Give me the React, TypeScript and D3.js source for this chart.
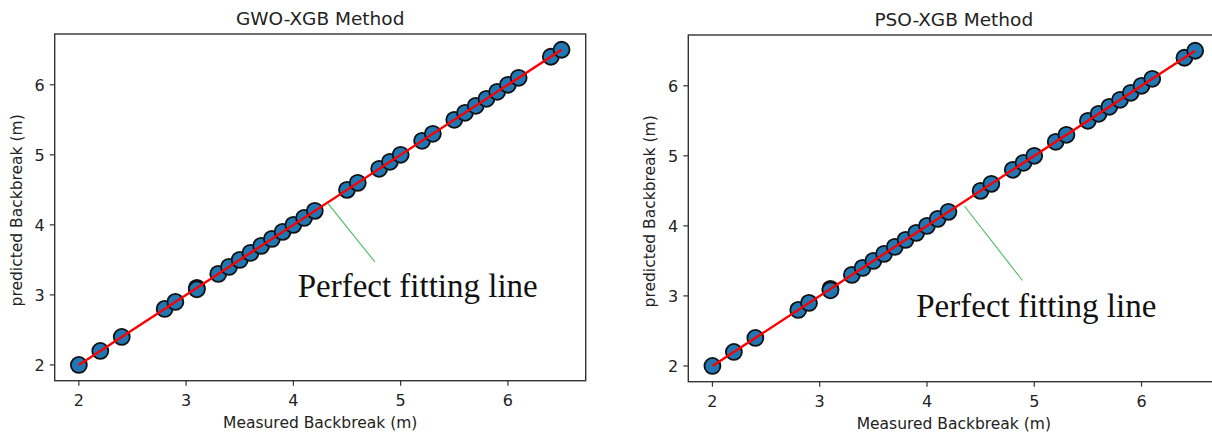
import React from "react";
import * as d3 from "d3";

const measured = [2.0, 2.2, 2.4, 2.8, 2.9, 3.1, 3.1, 3.3, 3.4, 3.5, 3.6, 3.7, 3.8, 3.9, 4.0, 4.1, 4.2, 4.5, 4.6, 4.8, 4.9, 5.0, 5.2, 5.3, 5.5, 5.6, 5.7, 5.8, 5.9, 6.0, 6.1, 6.4, 6.5];
const gwoPredicted = [2.0, 2.2, 2.4, 2.8, 2.9, 3.1, 3.08, 3.3, 3.4, 3.5, 3.6, 3.7, 3.8, 3.9, 4.0, 4.1, 4.2, 4.5, 4.6, 4.8, 4.9, 5.0, 5.2, 5.3, 5.5, 5.6, 5.7, 5.8, 5.9, 6.0, 6.1, 6.4, 6.5];
const psoPredicted = [2.0, 2.2, 2.4, 2.8, 2.9, 3.1, 3.08, 3.3, 3.4, 3.5, 3.6, 3.7, 3.8, 3.9, 4.0, 4.1, 4.2, 4.5, 4.6, 4.8, 4.9, 5.0, 5.2, 5.3, 5.5, 5.6, 5.7, 5.8, 5.9, 6.0, 6.1, 6.4, 6.5];
const tickValues = [2, 3, 4, 5, 6];
const titles = ["GWO-XGB Method", "PSO-XGB Method"];
const xLabel = "Measured Backbreak (m)";
const yLabel = "predicted Backbreak (m)";
const annotationText = "Perfect fitting line";
// annotation anchors in data coordinates: [lineStartX, lineStartY, lineEndX, lineEndY, textX, textBaselineY]
const gwoAnnotation = [4.32, 4.31, 4.76, 3.47, 4.04, 2.97];
const psoAnnotation = [4.35, 4.28, 4.89, 3.22, 3.9, 2.705];

const panels = [
  { title: titles[0], pred: gwoPredicted, ann: gwoAnnotation, left: 54.7, top: 34, bottom: 380.7 },
  { title: titles[1], pred: psoPredicted, ann: psoAnnotation, left: 688.3, top: 35, bottom: 381.7 },
];

const W = 1212, H = 434;
const PW = 531;
const sans = "'DejaVu Sans', sans-serif";

function Panel({ p }: { p: typeof panels[0] }) {
  const lo = d3.min(measured)!, hi = d3.max(measured)!;
  const m = (hi - lo) * 0.05;
  const x = d3.scaleLinear().domain([lo - m, hi + m]).range([p.left, p.left + PW]);
  const y = d3.scaleLinear().domain([lo - m, hi + m]).range([p.bottom, p.top]);
  const line = d3.line<number>().x((d) => x(d)).y((d) => y(d));
  const cx = p.left + PW / 2;
  const cy = (p.top + p.bottom) / 2;
  const a = p.ann;
  return (
    <g>
      <text x={cx} y={p.top - 9} textAnchor="middle" fontFamily={sans} fontSize={18.5} fill="#222">{p.title}</text>
      {measured.map((v, i) => (
        <circle key={i} cx={x(v)} cy={y(p.pred[i])} r={8} fill="#1f77b4" stroke="#111" strokeWidth={1.8} />
      ))}
      <path d={line([lo, hi]) || ""} stroke="#ff0000" strokeWidth={2.4} fill="none" />
      <line x1={x(a[0])} y1={y(a[1])} x2={x(a[2])} y2={y(a[3])} stroke="#4cbb5c" strokeWidth={1.1} />
      <text x={x(a[4])} y={y(a[5])} fontFamily="'Liberation Serif', 'Times New Roman', serif" fontSize={33} fill="#111">{annotationText}</text>
      <rect x={p.left} y={p.top} width={PW} height={p.bottom - p.top} fill="none" stroke="#333" strokeWidth={1.4} />
      {tickValues.map((t) => (
        <g key={"x" + t}>
          <line x1={x(t)} x2={x(t)} y1={p.bottom} y2={p.bottom + 5} stroke="#333" strokeWidth={1.2} />
          <text x={x(t)} y={p.bottom + 25} textAnchor="middle" fontFamily={sans} fontSize={16} fill="#222">{t}</text>
        </g>
      ))}
      {tickValues.map((t) => (
        <g key={"y" + t}>
          <line x1={p.left - 5} x2={p.left} y1={y(t)} y2={y(t)} stroke="#333" strokeWidth={1.2} />
          <text x={p.left - 10} y={y(t)} dy="0.36em" textAnchor="end" fontFamily={sans} fontSize={16} fill="#222">{t}</text>
        </g>
      ))}
      <text x={cx} y={p.bottom + 47} textAnchor="middle" fontFamily={sans} fontSize={15.5} fill="#222">{xLabel}</text>
      <text transform={`translate(${p.left - 33},${cy + 3}) rotate(-90)`} textAnchor="middle" fontFamily={sans} fontSize={15.5} fill="#222">{yLabel}</text>
    </g>
  );
}

export default function App() {
  return (
    <svg width={W} height={H} style={{ position: "absolute", left: 0, top: 0, background: "#fff" }}>
      <rect width={W} height={H} fill="#fff" />
      {panels.map((p, i) => (
        <Panel key={i} p={p} />
      ))}
    </svg>
  );
}
